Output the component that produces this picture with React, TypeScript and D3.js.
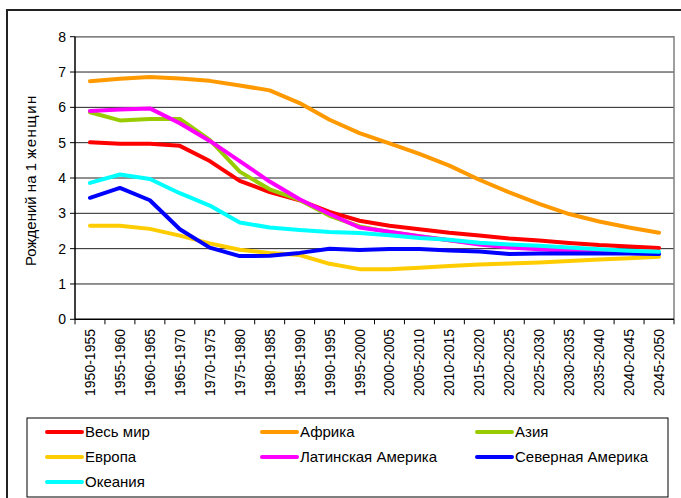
import React from "react";
import * as d3 from "d3";

const periods = [
  "1950-1955", "1955-1960", "1960-1965", "1965-1970", "1970-1975",
  "1975-1980", "1980-1985", "1985-1990", "1990-1995", "1995-2000",
  "2000-2005", "2005-2010", "2010-2015", "2015-2020", "2020-2025",
  "2025-2030", "2030-2035", "2035-2040", "2040-2045", "2045-2050",
];

const yTicks = [0, 1, 2, 3, 4, 5, 6, 7, 8];

const world = [5.01, 4.97, 4.97, 4.91, 4.48, 3.92, 3.6, 3.37, 3.04, 2.79, 2.65, 2.55, 2.45, 2.37, 2.29, 2.23, 2.16, 2.1, 2.06, 2.02];
const africa = [6.74, 6.81, 6.86, 6.82, 6.75, 6.62, 6.48, 6.12, 5.65, 5.27, 4.98, 4.68, 4.35, 3.95, 3.59, 3.27, 2.98, 2.77, 2.6, 2.45];
const asia = [5.86, 5.63, 5.67, 5.67, 5.08, 4.18, 3.68, 3.38, 2.93, 2.63, 2.47, 2.35, 2.24, 2.14, 2.06, 2.0, 1.95, 1.91, 1.88, 1.86];
const europe = [2.65, 2.65, 2.56, 2.37, 2.15, 1.97, 1.88, 1.82, 1.57, 1.42, 1.42, 1.46, 1.51, 1.55, 1.58, 1.61, 1.65, 1.69, 1.73, 1.77];
const latinAmerica = [5.9, 5.94, 5.97, 5.55, 5.05, 4.48, 3.9, 3.4, 2.98, 2.6, 2.48, 2.35, 2.24, 2.12, 2.03, 1.98, 1.94, 1.91, 1.88, 1.86];
const northAmerica = [3.44, 3.72, 3.37, 2.55, 2.03, 1.79, 1.8, 1.88, 2.0, 1.96, 1.99, 1.99, 1.95, 1.92, 1.85, 1.86, 1.86, 1.86, 1.86, 1.85];
const oceania = [3.86, 4.1, 3.97, 3.57, 3.22, 2.74, 2.6, 2.53, 2.47, 2.44, 2.38, 2.3, 2.25, 2.17, 2.12, 2.08, 2.03, 1.98, 1.94, 1.91];

const seriesNames = ["Весь мир", "Африка", "Азия", "Европа", "Латинская Америка", "Северная Америка", "Океания"];
const seriesColors = ["#FF0000", "#FF9900", "#99CC00", "#FFCC00", "#FF00FF", "#0000FF", "#00FFFF"];
const seriesValues = [world, africa, asia, europe, latinAmerica, northAmerica, oceania];

const yTitleStart = "Рождений на 1 ";
const yTitleEnd = "женщину";

export default function App() {
  const W = 681, H = 498;
  const left = 75, right = 674, top = 36.7, bottom = 319.3;
  const x = d3.scaleBand<string>().domain(periods).range([left, right]);
  const y = d3.scaleLinear().domain([0, 8]).range([bottom, top]);
  const line = d3
    .line<number>()
    .x((_, i) => (x(periods[i]) as number) + x.bandwidth() / 2)
    .y((d) => y(d));
  const font = "Arial, 'Liberation Sans', sans-serif";

  const legendCols = [47, 262, 477];
  const legendRows = [432, 457, 482];

  return (
    <svg
      width={W}
      height={H}
      style={{ position: "absolute", left: 0, top: 0, background: "#fff" }}
      fontFamily={font}
    >
      <defs>
        <clipPath id="ytclip">
          <rect x={0} y={95} width={60} height={200} />
        </clipPath>
      </defs>
      {/* outer frame */}
      <path d={`M7,${H} L7,10 L${W},10`} fill="none" stroke="#222" strokeWidth={2} />

      {/* gridlines */}
      {yTicks.slice(1).map((t) => (
        <line key={t} x1={left} x2={right} y1={y(t)} y2={y(t)} stroke="#222" strokeWidth={1} />
      ))}
      {/* plot border top/right */}
      <path d={`M${left},${top} L${right},${top} L${right},${bottom}`} fill="none" stroke="#808080" strokeWidth={1.5} />

      {/* axes */}
      <line x1={left} x2={left} y1={top} y2={bottom} stroke="#000" strokeWidth={1.5} />
      <line x1={left} x2={right} y1={bottom} y2={bottom} stroke="#000" strokeWidth={1.5} />
      {yTicks.map((t) => (
        <g key={t}>
          <line x1={left - 5} x2={left} y1={y(t)} y2={y(t)} stroke="#000" strokeWidth={1} />
          <text x={66} y={y(t)} dy="0.35em" textAnchor="end" fontSize={14} fill="#000">
            {t}
          </text>
        </g>
      ))}
      {periods.map((p) => (
        <line key={"t" + p} x1={x(p)} x2={x(p)} y1={bottom} y2={bottom + 5} stroke="#000" strokeWidth={1} />
      ))}
      <line x1={right} x2={right} y1={bottom} y2={bottom + 5} stroke="#000" strokeWidth={1} />
      {periods.map((p) => {
        const cx = (x(p) as number) + x.bandwidth() / 2;
        return (
          <text
            key={"l" + p}
            transform={`translate(${cx + 5},329) rotate(-90)`}
            textAnchor="end"
            fontSize={14}
            fill="#000"
          >
            {p}
          </text>
        );
      })}

      {/* y title */}
      <g clipPath="url(#ytclip)">
        <text transform="translate(36,266) rotate(-90)" textAnchor="start" fontSize={15} fill="#000">
          {yTitleStart}
          <tspan letterSpacing={1.5}>{yTitleEnd}</tspan>
        </text>
      </g>

      {/* series */}
      {seriesValues.map((vals, i) => (
        <path
          key={seriesNames[i]}
          d={line(vals) as string}
          fill="none"
          stroke={seriesColors[i]}
          strokeWidth={4}
          strokeLinejoin="round"
          strokeLinecap="round"
        />
      ))}

      {/* legend */}
      <rect x={27} y={418} width={641} height={79} fill="#fff" stroke="#000" strokeWidth={1} />
      {seriesNames.map((name, i) => {
        const cx = legendCols[i % 3];
        const cy = legendRows[Math.floor(i / 3)];
        return (
          <g key={"lg" + name}>
            <line x1={cx} x2={cx + 35} y1={cy} y2={cy} stroke={seriesColors[i]} strokeWidth={4} strokeLinecap="round" />
            <text x={cx + 38} y={cy} dy="0.35em" fontSize={15} fill="#000">
              {name}
            </text>
          </g>
        );
      })}
    </svg>
  );
}
